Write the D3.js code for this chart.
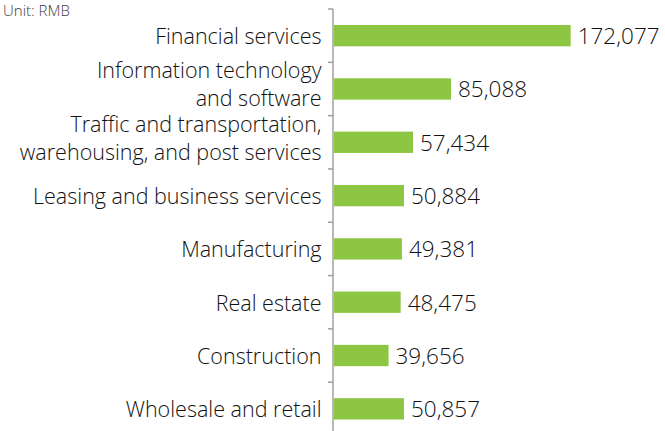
<!DOCTYPE html>
<html>
<head>
<meta charset="utf-8">
<script src="https://cdn.jsdelivr.net/npm/d3@7"></script>
<style>
  html, body { margin: 0; padding: 0; background: #fff; }
  svg { display: block; font-family: "Open Sans", sans-serif; }
</style>
</head>
<body>
<svg id="chart" width="665" height="431"></svg>
<script>
// Categories, top to bottom; multi-line labels split with "\n"
const categories = [
  "Financial services",
  "Information technology\nand software",
  "Traffic and transportation,\nwarehousing, and post services",
  "Leasing and business services",
  "Manufacturing",
  "Real estate",
  "Construction",
  "Wholesale and retail"
];
const values = [172077, 85088, 57434, 50884, 49381, 48475, 39656, 50857];
const unitLabel = "Unit: RMB";

const svg = d3.select("#chart");
const axisX = 333;

const y = d3.scaleBand()
  .domain(categories)
  .range([9, 435.5])
  .paddingInner(0.6)
  .paddingOuter(0.3);

const x = d3.scaleLinear()
  .domain([0, 200000])
  .range([axisX + 1, axisX + 1 + 275.1]);

const fmt = d3.format(",");

// Unit note
svg.append("text")
  .attr("x", 3)
  .attr("y", 15.5)
  .attr("font-size", 15)
  .attr("font-weight", 350)
  .attr("fill", "#404040")
  .text(unitLabel);

// Bars
svg.append("g")
  .selectAll("rect")
  .data(values)
  .join("rect")
  .attr("x", x(0))
  .attr("y", (d, i) => y(categories[i]))
  .attr("width", d => x(d) - x(0))
  .attr("height", y.bandwidth())
  .attr("fill", "#8cc643");

// Value labels
svg.append("g")
  .selectAll("text")
  .data(values)
  .join("text")
  .attr("x", d => x(d) + 7)
  .attr("y", (d, i) => y(categories[i]) + y.bandwidth() / 2 + 8.3)
  .attr("font-size", 22.5)
  .attr("font-weight", 350)
  .attr("fill", "#111")
  .text(d => fmt(d));

// Category axis: line plus ticks at band boundaries
const step = y.step();
const axisTop = y.range()[0];
const boundaries = d3.range(categories.length + 1).map(k => axisTop + k * step);
const axis = svg.append("g").attr("stroke", "#a0a0a0").attr("stroke-width", 1.5);
axis.append("line")
  .attr("x1", axisX).attr("x2", axisX)
  .attr("y1", axisTop).attr("y2", 431);
axis.selectAll("line.tick")
  .data(boundaries)
  .join("line")
  .attr("class", "tick")
  .attr("x1", axisX - 5).attr("x2", axisX)
  .attr("y1", d => d).attr("y2", d => d);

// Category labels
const labels = svg.append("g")
  .attr("text-anchor", "end")
  .attr("font-size", 21.5)
  .attr("font-weight", 350)
  .attr("fill", "#111");
categories.forEach(c => {
  const lines = c.split("\n");
  const cy = y(c) + y.bandwidth() / 2;
  const t = labels.append("text").attr("x", axisX - 11.5);
  if (lines.length === 1) {
    t.attr("y", cy + 8.3).text(c);
  } else {
    lines.forEach((ln, j) => {
      t.append("tspan")
        .attr("x", axisX - 11.5)
        .attr("y", cy - 10.5 + j * 28)
        .text(ln);
    });
  }
});
</script>
</body>
</html>
